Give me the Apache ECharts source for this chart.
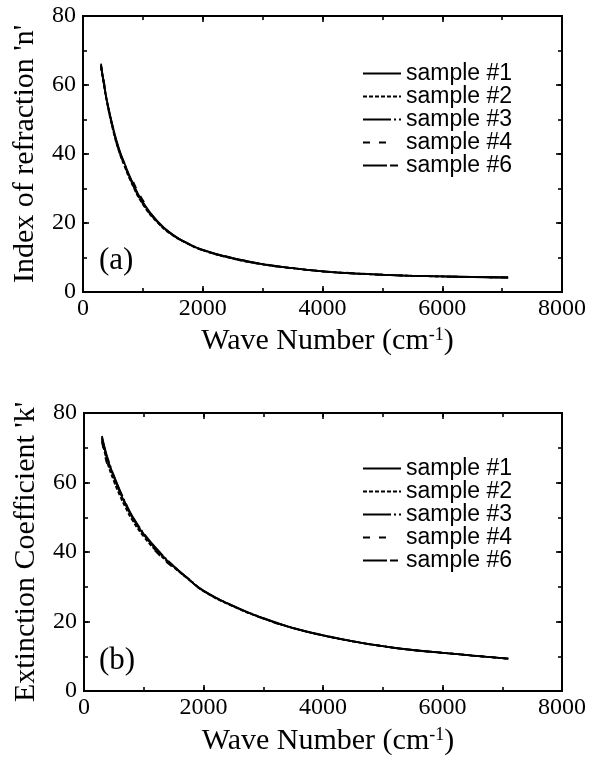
<!DOCTYPE html>
<html>
<head>
<meta charset="utf-8">
<script src="https://cdn.jsdelivr.net/npm/echarts@6/dist/echarts.min.js"></script>
<style>
  html, body { margin: 0; padding: 0; background: #fff; }
  #chart { width: 589px; height: 758px; }
</style>
</head>
<body>
<div id="chart"></div>
<script>
// wave numbers (cm-1) shared by all samples
const waveNumbers = [300, 350, 400, 500, 600, 700, 800, 1000, 1250, 1500, 1750, 2000, 2500, 3000, 3500, 4000, 4500, 5000, 5500, 6000, 6500, 7100]

// (a) index of refraction n
const nSample1 = [65.8, 60.5, 55.5, 47.8, 41.6, 37.0, 32.8, 26.0, 20.4, 16.6, 14.1, 12.2, 9.8, 8.1, 6.9, 6.0, 5.4, 5.0, 4.7, 4.5, 4.35, 4.2]
const nSample2 = [65.2, 60.0, 55.0, 47.0, 40.8, 36.2, 32.0, 25.4, 20.0, 16.4, 14.0, 12.1, 9.7, 8.0, 6.9, 6.0, 5.4, 5.0, 4.7, 4.5, 4.35, 4.2]
const nSample3 = [65.6, 60.4, 55.4, 47.6, 41.4, 36.8, 32.6, 25.8, 20.3, 16.6, 14.1, 12.2, 9.8, 8.1, 6.9, 6.0, 5.4, 5.0, 4.7, 4.5, 4.35, 4.2]
const nSample4 = [66.2, 61.0, 56.0, 48.4, 42.2, 37.6, 33.4, 26.6, 20.8, 16.9, 14.3, 12.3, 9.9, 8.2, 7.0, 6.1, 5.5, 5.0, 4.7, 4.5, 4.35, 4.2]
const nSample6 = [65.4, 60.2, 55.2, 47.3, 41.0, 36.5, 32.3, 25.6, 20.2, 16.5, 14.0, 12.1, 9.7, 8.0, 6.9, 6.0, 5.4, 5.0, 4.7, 4.5, 4.35, 4.2]

// (b) extinction coefficient k
const kSample1 = [72.8, 69.2, 66.2, 61.5, 57.2, 53.5, 50.2, 45.0, 40.0, 35.8, 32.2, 28.8, 24.4, 20.9, 18.1, 16.0, 14.3, 12.9, 11.8, 11.0, 10.2, 9.3]
const kSample2 = [72.2, 68.4, 65.2, 60.4, 56.2, 52.6, 49.4, 44.4, 39.6, 35.6, 32.1, 28.7, 24.3, 20.9, 18.1, 16.0, 14.3, 12.9, 11.8, 11.0, 10.2, 9.3]
const kSample3 = [73.4, 69.8, 66.8, 62.0, 57.8, 54.0, 50.6, 45.4, 40.3, 36.0, 32.3, 28.9, 24.5, 21.0, 18.2, 16.1, 14.3, 12.9, 11.8, 11.0, 10.2, 9.3]
const kSample4 = [71.8, 67.8, 64.6, 59.8, 55.6, 52.0, 48.9, 44.0, 39.3, 35.4, 32.0, 28.6, 24.3, 20.8, 18.1, 16.0, 14.3, 12.9, 11.8, 11.0, 10.2, 9.3]
const kSample6 = [73.0, 69.4, 66.4, 61.8, 57.5, 53.8, 50.4, 45.2, 40.1, 35.9, 32.2, 28.8, 24.4, 20.9, 18.1, 16.0, 14.3, 12.9, 11.8, 11.0, 10.2, 9.3]

const sampleNames = ['sample #1', 'sample #2', 'sample #3', 'sample #4', 'sample #6']
const dashes = ['solid', [4, 2], [28, 3, 2, 3], [7, 9, 7, 100], [24, 3, 8, 3]]

const serif = 'Liberation Serif'
const sans = 'Liberation Sans'

function pairs(ys) {
  return waveNumbers.map((x, i) => [x, ys[i]])
}

function makeSeries(list, xi, yi) {
  return list.map((ys, i) => ({
    name: sampleNames[i],
    type: 'line',
    xAxisIndex: xi,
    yAxisIndex: yi,
    smooth: true,
    symbol: 'none',
    data: pairs(ys),
    lineStyle: { color: '#000', width: 1.8, type: dashes[i] },
    itemStyle: { color: '#000' }
  }))
}

// empty series so the extra tick axes count as used
function tickSeries(base) {
  return [1, 2, 3].map((k) => ({
    name: 'ticks', type: 'line', xAxisIndex: base + k, yAxisIndex: base + k, symbol: 'none', data: [], silent: true
  }))
}

function tickAxis(len, showLine) {
  return {
    axisLine: { show: showLine, onZero: false, lineStyle: { color: '#000', width: 1.8 } },
    axisTick: { inside: true, length: len, lineStyle: { color: '#000', width: 1.6 } },
    splitLine: { show: false }
  }
}

// bottom/top with major ticks, then bottom/top with minor ticks
function xAxes(gridIndex, gap) {
  const common = { type: 'value', gridIndex, min: 0, max: 8000 }
  return [
    {
      ...common,
      ...tickAxis(6, true),
      interval: 2000,
      position: 'bottom',
      name: '{a|Wave Number (cm}{s|-1}{a|)}',
      nameLocation: 'middle',
      nameGap: gap,
      nameTextStyle: {
        padding: [0, 0, 0, 10],
        rich: {
          a: { fontFamily: serif, fontSize: 30, color: '#000' },
          s: { fontFamily: serif, fontSize: 18, color: '#000', verticalAlign: 'top', padding: [0, 0, 12, 0] }
        }
      },
      axisLabel: { fontFamily: serif, fontSize: 24, color: '#000', margin: 5, formatter: (v) => String(v) }
    },
    { ...common, ...tickAxis(6, true), interval: 2000, position: 'top', axisLabel: { show: false } },
    { ...common, ...tickAxis(4, false), interval: 1000, position: 'bottom', axisLabel: { show: false } },
    { ...common, ...tickAxis(4, false), interval: 1000, position: 'top', axisLabel: { show: false } }
  ]
}

function yAxes(gridIndex, title) {
  const common = { type: 'value', gridIndex, min: 0, max: 80 }
  return [
    {
      ...common,
      ...tickAxis(6, true),
      interval: 20,
      position: 'left',
      name: title,
      nameLocation: 'middle',
      nameGap: 43,
      nameTextStyle: { fontFamily: serif, fontSize: 30, color: '#000' },
      axisLabel: { fontFamily: serif, fontSize: 24, color: '#000', margin: 7 }
    },
    { ...common, ...tickAxis(6, true), interval: 20, position: 'right', axisLabel: { show: false } },
    { ...common, ...tickAxis(4, false), interval: 10, position: 'left', axisLabel: { show: false } },
    { ...common, ...tickAxis(4, false), interval: 10, position: 'right', axisLabel: { show: false } }
  ]
}

function legend(top) {
  return {
    orient: 'vertical',
    left: 362,
    top,
    padding: 0,
    data: sampleNames,
    itemWidth: 38,
    itemHeight: 14,
    itemGap: 0,
    selectedMode: false,
    itemStyle: { opacity: 0 },
    textStyle: { fontFamily: sans, fontSize: 23, color: '#000', lineHeight: 21 }
  }
}

const chart = echarts.init(document.getElementById('chart'))
chart.setOption({
  animation: false,
  backgroundColor: '#fff',
  grid: [
    { left: 83, right: 20, top: 16, height: 276, show: true, borderColor: '#000', borderWidth: 1.8 },
    { left: 84, right: 16, top: 413, height: 278, show: true, borderColor: '#000', borderWidth: 1.8 }
  ],
  xAxis: [...xAxes(0, 34), ...xAxes(1, 35)],
  yAxis: [...yAxes(0, "Index of refraction 'n'"), ...yAxes(1, "Extinction Coefficient 'k'")],
  legend: [legend(62), legend(457)],
  graphic: [
    { type: 'text', left: 99, top: 245, style: { text: '(a)', font: '31px "Liberation Serif"', fill: '#000' } },
    { type: 'text', left: 99, top: 645, style: { text: '(b)', font: '31px "Liberation Serif"', fill: '#000' } }
  ],
  series: [
    ...makeSeries([nSample1, nSample2, nSample3, nSample4, nSample6], 0, 0),
    ...makeSeries([kSample1, kSample2, kSample3, kSample4, kSample6], 4, 4),
    ...tickSeries(0),
    ...tickSeries(4)
  ]
})
</script>
</body>
</html>
